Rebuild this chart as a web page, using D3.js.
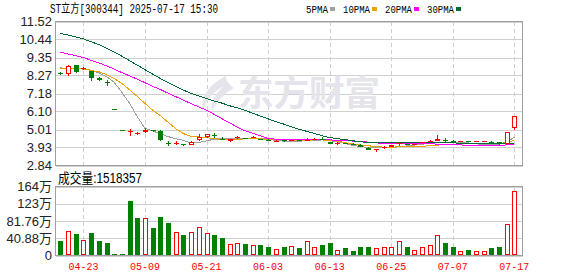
<!DOCTYPE html>
<html>
<head>
<meta charset="utf-8">
<script src="https://cdn.jsdelivr.net/npm/d3@7/dist/d3.min.js"></script>
<style>
  html, body { margin: 0; padding: 0; background: #fff; }
  svg { display: block; }
</style>
</head>
<body>
<div id="kline"></div>
<script>
// trading days shown (one suspension day on 04-29)
const dates = ["04-18","04-21","04-22","04-23","04-24","04-25","04-28","04-30","05-06","05-07",
  "05-08","05-09","05-12","05-13","05-14","05-15","05-16","05-19","05-20","05-21",
  "05-22","05-23","05-26","05-27","05-28","05-29","05-30","06-03","06-04","06-05",
  "06-06","06-09","06-10","06-11","06-12","06-13","06-16","06-17","06-18","06-19",
  "06-20","06-23","06-24","06-25","06-26","06-27","06-30","07-01","07-02","07-03",
  "07-04","07-07","07-08","07-09","07-10","07-11","07-14","07-15","07-16","07-17"];

const opens = [8.42,8.36,8.88,8.68,8.53,8.13,7.86,6.26,5.01,4.85,
  4.74,4.83,4.95,4.94,4.21,4.12,4.11,4.10,4.36,4.56,
  4.68,4.46,4.30,4.47,4.50,4.51,4.44,4.40,4.27,4.35,
  4.32,4.38,4.36,4.38,4.44,4.26,4.15,4.20,4.15,4.10,
  3.92,3.75,3.88,3.98,4.13,4.16,4.12,4.18,4.26,4.32,
  4.36,4.33,4.28,4.32,4.25,4.28,4.27,4.24,4.14,5.13];
const closes = [8.38,8.84,8.46,8.74,8.09,7.97,7.82,6.26,5.01,4.90,
  4.78,4.97,4.92,4.38,4.17,4.21,4.07,4.28,4.58,4.72,
  4.63,4.40,4.42,4.55,4.46,4.56,4.40,4.33,4.34,4.30,
  4.38,4.33,4.40,4.42,4.40,4.16,4.19,4.15,4.12,3.98,
  3.80,3.84,3.98,4.05,4.17,4.12,4.14,4.24,4.33,4.42,
  4.33,4.30,4.32,4.28,4.29,4.30,4.24,4.20,4.84,5.80];
const highs = [8.46,8.90,8.92,8.79,8.56,8.16,8.02,6.26,5.01,5.04,
  4.86,5.12,5.00,4.96,4.30,4.29,4.15,4.30,4.72,4.76,
  4.78,4.55,4.44,4.60,4.52,4.63,4.46,4.42,4.36,4.38,
  4.40,4.40,4.52,4.47,4.53,4.27,4.25,4.22,4.17,4.11,
  3.93,3.86,4.00,4.08,4.27,4.18,4.16,4.26,4.36,4.67,
  4.48,4.35,4.34,4.33,4.31,4.32,4.29,4.25,4.86,5.82];
const lows = [8.30,8.25,8.44,8.62,7.95,7.95,7.66,6.26,5.01,4.62,
  4.70,4.82,4.86,4.34,4.04,4.10,3.99,4.08,4.33,4.50,
  4.49,4.36,4.28,4.45,4.42,4.49,4.38,4.31,4.25,4.27,
  4.31,4.30,4.35,4.36,4.38,4.14,4.07,4.13,4.10,3.96,
  3.78,3.68,3.86,3.96,4.03,4.10,4.10,4.17,4.25,4.30,
  4.28,4.28,4.27,4.26,4.24,4.27,4.22,4.06,4.08,4.99];
const lastClose = 8.50; // close of the day before the window

// volume, unit: 万手
const volumes = [35.5,56.9,49.8,37.2,54.5,33.2,30.8,2.4,2.4,128,
  87.7,89.3,64,92.4,78.2,56.1,47.4,56.1,68,54.5,
  47.4,40.3,28.4,30.8,28.4,26,26,19,15.8,21.3,
  22.9,16.6,35.5,21.3,26,30.8,14.2,16.6,11.8,21.3,
  21.3,16.6,21.3,21.3,35.5,21.3,14.2,21.3,26,47.4,
  29.2,21.3,11.8,14.2,11.8,9.5,16.6,19,75.8,151.8357];

const ma5 = [8.72,8.70,8.68,8.66,8.58,8.42,8.20,7.85,7.25,6.58,
  5.78,5.08,4.92,4.75,4.58,4.46,4.35,4.20,4.22,4.33,
  4.42,4.46,4.47,4.46,4.46,4.46,4.45,4.44,4.35,4.31,
  4.28,4.30,4.34,4.36,4.38,4.34,4.27,4.16,4.05,3.98,
  3.92,3.90,3.90,3.92,3.97,4.02,4.07,4.12,4.18,4.22,
  4.24,4.25,4.24,4.20,4.14,4.12,4.11,4.12,4.25,4.55];
const ma10 = [8.70,8.71,8.70,8.65,8.57,8.49,8.32,8.08,7.78,7.40,
  7.00,6.58,6.17,5.84,5.45,5.06,4.76,4.60,4.56,4.52,
  4.45,4.42,4.42,4.43,4.44,4.45,4.44,4.42,4.40,4.39,
  4.38,4.37,4.37,4.38,4.38,4.35,4.30,4.22,4.14,4.08,
  4.03,3.98,3.95,3.95,3.96,3.97,3.98,4.00,4.03,4.07,
  4.10,4.12,4.14,4.15,4.16,4.16,4.16,4.16,4.22,4.36];
const ma20 = [9.67,9.56,9.46,9.35,9.18,9.02,8.85,8.65,8.44,8.24,
  8.04,7.83,7.61,7.42,7.20,6.99,6.78,6.57,6.37,6.17,
  5.92,5.66,5.41,5.15,4.93,4.78,4.63,4.46,4.43,4.42,
  4.41,4.41,4.40,4.40,4.39,4.38,4.37,4.36,4.31,4.28,
  4.25,4.20,4.18,4.16,4.16,4.16,4.16,4.16,4.15,4.13,
  4.12,4.10,4.08,4.06,4.05,4.05,4.05,4.05,4.08,4.13];
const ma30 = [10.81,10.70,10.59,10.47,10.30,10.13,9.90,9.67,9.43,9.16,
  8.89,8.61,8.35,8.08,7.85,7.61,7.38,7.19,7.03,6.87,
  6.73,6.60,6.44,6.32,6.17,5.99,5.82,5.65,5.49,5.34,
  5.18,5.03,4.90,4.77,4.64,4.52,4.46,4.40,4.33,4.27,
  4.23,4.22,4.22,4.22,4.22,4.22,4.22,4.22,4.22,4.22,
  4.21,4.20,4.19,4.18,4.16,4.15,4.14,4.14,4.16,4.20];

const priceTicks = [11.52, 10.44, 9.35, 8.27, 7.18, 6.10, 5.01, 3.93, 2.84];
const volTicks = [0, 40.88, 81.76, 122.64, 163.52];
const volTickLabels = ["0", "40.88万", "81.76万", "123万", "164万"];
const dateTicks = ["04-23","05-09","05-21","06-03","06-13","06-25","07-07","07-17"];

const maNames = ["5PMA", "10PMA", "20PMA", "30PMA"];
const maColors = ["#a0a0a0", "#f0a000", "#ff00ff", "#006b36"];

// layout
const width = 578, height = 276;
const left = 55.5, right = 522.5;
const priceTop = 21.5, priceBottom = 165.5;
const volTop = 186.5, volBottom = 255.5;
const up = "#ff0000", down = "#008000";
const gridColor = "#d0d0d0", borderColor = "#a0a0a0";

const svg = d3.select("#kline").append("svg")
  .attr("width", width).attr("height", height)
  .style("font-family", "'Liberation Sans', Arial, sans-serif");

const x = d3.scalePoint().domain(dates).range([56.5, 518.2]).padding(0.5);
const y = d3.scaleLinear().domain([2.84, 11.52]).range([priceBottom, priceTop]);
const yv = d3.scaleLinear().domain([0, 163.52]).range([volBottom, volTop]);
const px = d => Math.round(x(d)) + 0.5;
const bodyW = 5;

// header
svg.append("text")
  .attr("x", 50).attr("y", 13)
  .attr("font-size", 12)
  .attr("font-family", "'Liberation Mono', 'Noto Sans CJK SC', monospace")
  .attr("textLength", 168).attr("lengthAdjust", "spacingAndGlyphs")
  .attr("fill", "#000")
  .text("ST立方[300344] 2025-07-17 15:30");

const legendX = [306, 343, 385, 427];
const legendW = [22, 27, 27, 27];
maNames.forEach((name, i) => {
  svg.append("text")
    .attr("x", legendX[i]).attr("y", 13)
    .attr("font-size", 11)
    .attr("font-family", "'Liberation Mono', monospace")
    .attr("textLength", legendW[i]).attr("lengthAdjust", "spacingAndGlyphs")
    .text(name);
  svg.append("rect")
    .attr("x", legendX[i] + legendW[i] + 2).attr("y", 7)
    .attr("width", 5).attr("height", 4)
    .attr("fill", maColors[i]);
});

// price grid
const grid = svg.append("g").attr("shape-rendering", "crispEdges");
grid.selectAll(".hp").data(priceTicks).enter().append("line")
  .attr("x1", left).attr("x2", right)
  .attr("y1", d => Math.round(y(d)) + 0.5).attr("y2", d => Math.round(y(d)) + 0.5)
  .attr("stroke", gridColor);
grid.selectAll(".hv").data(volTicks).enter().append("line")
  .attr("x1", left).attr("x2", right)
  .attr("y1", d => Math.round(yv(d)) + 0.5).attr("y2", d => Math.round(yv(d)) + 0.5)
  .attr("stroke", gridColor);
dateTicks.forEach(d => {
  [[priceTop, priceBottom], [volTop, volBottom]].forEach(r => {
    grid.append("line")
      .attr("x1", px(d)).attr("x2", px(d))
      .attr("y1", r[0]).attr("y2", r[1])
      .attr("stroke", "#cfcfcf").attr("stroke-dasharray", "4,3");
  });
});

// watermark
const wm = svg.append("g").attr("fill", "#e4e4ea");
wm.append("path")
  .attr("d", "M226,76 C210,84 200,96 203,110 C206,100 213,92 224,86 C214,95 210,103 212,111 C218,100 226,92 234,88 C228,84 226,80 226,76 Z");
wm.append("text")
  .attr("x", 238).attr("y", 106)
  .attr("font-size", 35).attr("font-weight", "bold")
  .attr("font-family", "'Noto Sans CJK SC', sans-serif")
  .attr("textLength", 142).attr("lengthAdjust", "spacingAndGlyphs")
  .text("东方财富");

// borders
const frame = svg.append("g").attr("shape-rendering", "crispEdges")
  .attr("fill", "none").attr("stroke", borderColor);
frame.append("rect").attr("x", left).attr("y", priceTop)
  .attr("width", right - left).attr("height", priceBottom - priceTop);
frame.append("path")
  .attr("d", `M${left},${volBottom}V${volTop}H${right}V${volBottom}H${left}`);

// axis labels
svg.append("g").selectAll("text").data(priceTicks).enter().append("text")
  .attr("x", 52).attr("y", d => y(d) + 4.5)
  .attr("text-anchor", "end").attr("font-size", 13).attr("fill", "#222")
  .text(d => d.toFixed(2));
svg.append("g").selectAll("text").data(volTicks).enter().append("text")
  .attr("x", 52).attr("y", d => yv(d) + 4.5)
  .attr("text-anchor", "end").attr("font-size", 13).attr("fill", "#222")
  .attr("font-family", "'Liberation Sans', 'Noto Sans CJK SC', sans-serif")
  .text((d, i) => volTickLabels[i]);
svg.append("g").selectAll("text").data(dateTicks).enter().append("text")
  .attr("x", d => x(d)).attr("y", 270)
  .attr("text-anchor", "middle").attr("font-size", 11)
  .attr("font-family", "'Liberation Mono', monospace")
  .attr("textLength", 30).attr("lengthAdjust", "spacingAndGlyphs")
  .attr("fill", "#ff0000")
  .text(d => d);

svg.append("text")
  .attr("x", 58).attr("y", 182.5)
  .attr("font-size", 14)
  .attr("font-family", "'Liberation Sans', 'Noto Sans CJK SC', sans-serif")
  .attr("textLength", 84).attr("lengthAdjust", "spacingAndGlyphs")
  .text("成交量:" + Math.round(volumes[volumes.length - 1] * 10000));

// volume bars, coloured by close vs previous close
const volG = svg.append("g").attr("shape-rendering", "crispEdges");
dates.forEach((d, i) => {
  const prev = i === 0 ? lastClose : closes[i - 1];
  const rising = closes[i] > prev;
  const top = Math.round(yv(volumes[i]));
  const cx = px(d);
  if (rising) {
    volG.append("rect")
      .attr("x", cx - 2).attr("y", top + 0.5)
      .attr("width", bodyW - 1).attr("height", Math.max(0, 255 - top - 1))
      .attr("fill", "#fff").attr("stroke", up);
  } else {
    volG.append("rect")
      .attr("x", cx - 2.5).attr("y", top)
      .attr("width", bodyW).attr("height", Math.max(1, 255 - top))
      .attr("fill", down);
  }
});

// moving averages
const maSeries = [ma5, ma10, ma20, ma30];
maSeries.forEach((s, k) => {
  const line = d3.line()
    .x((v, i) => x(dates[i]))
    .y(v => y(v));
  svg.append("path")
    .datum(s)
    .attr("d", line)
    .attr("fill", "none")
    .attr("stroke", maColors[k])
    .attr("stroke-width", 1)
    .attr("shape-rendering", "crispEdges");
});

// candles
const candleG = svg.append("g").attr("shape-rendering", "crispEdges");
dates.forEach((d, i) => {
  const o = opens[i], c = closes[i], h = highs[i], l = lows[i];
  const cx = px(d);
  const yo = Math.round(y(o)), yc = Math.round(y(c));
  const yh = Math.round(y(h)), yl = Math.round(y(l));
  const g = candleG.append("g");
  if (c > o) {
    // hollow red candle
    g.append("line").attr("x1", cx).attr("x2", cx).attr("y1", yh).attr("y2", yc).attr("stroke", up);
    g.append("line").attr("x1", cx).attr("x2", cx).attr("y1", yo).attr("y2", yl).attr("stroke", up);
    if (yo - yc >= 2) {
      g.append("rect")
        .attr("x", cx - 2).attr("y", yc + 0.5)
        .attr("width", bodyW - 1).attr("height", yo - yc - 1)
        .attr("fill", "#fff").attr("stroke", up);
    } else {
      g.append("rect").attr("x", cx - 2.5).attr("y", yc)
        .attr("width", bodyW).attr("height", Math.max(1, yo - yc)).attr("fill", up);
    }
  } else {
    const col = c < o ? down : (c >= (i === 0 ? lastClose : closes[i - 1]) ? up : down);
    g.append("line").attr("x1", cx).attr("x2", cx).attr("y1", yh).attr("y2", yl).attr("stroke", col);
    g.append("rect").attr("x", cx - 2.5).attr("y", yo)
      .attr("width", bodyW).attr("height", Math.max(1, yc - yo)).attr("fill", col);
  }
});
</script>
</body>
</html>
